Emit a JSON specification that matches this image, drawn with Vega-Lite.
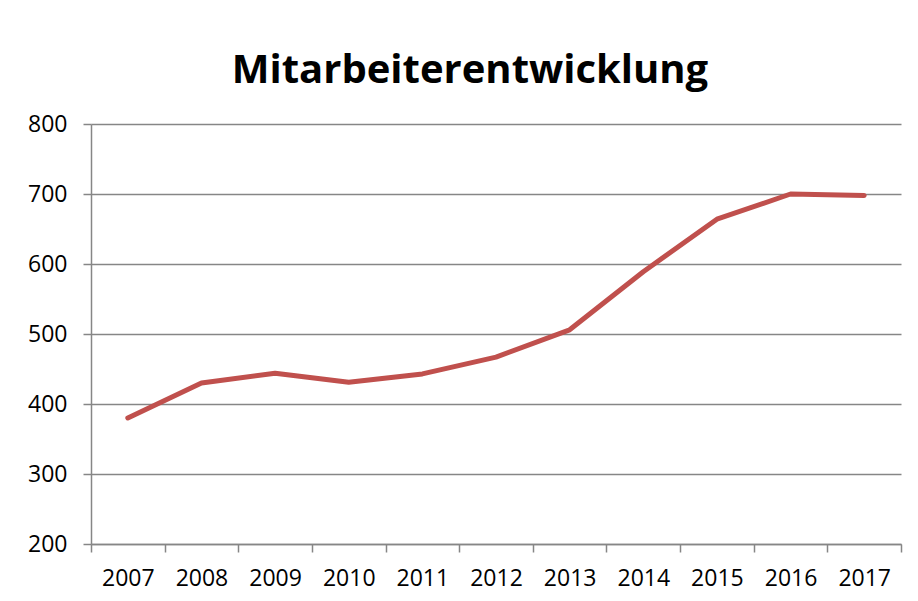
{
  "$schema": "https://vega.github.io/schema/vega-lite/v6.json",
  "width": 810,
  "height": 420,
  "autosize": {"type": "none"},
  "padding": {"left": 91, "top": 124, "right": 17, "bottom": 57},
  "background": "white",
  "title": {
    "text": "Mitarbeiterentwicklung",
    "font": "Open Sans",
    "fontSize": 40,
    "fontWeight": "bold",
    "color": "#000000",
    "anchor": "middle",
    "dx": -26,
    "baseline": "alphabetic",
    "offset": 0,
    "dy": 10
  },
  "config": {
    "view": {"stroke": null},
    "axis": {
      "labelFont": "Open Sans",
      "labelFontSize": 23,
      "labelColor": "#000000",
      "domainColor": "#868686",
      "tickColor": "#868686",
      "gridColor": "#868686",
      "domainWidth": 1.5,
      "tickWidth": 1.5,
      "gridWidth": 1.5,
      "tickSize": 8,
      "title": null
    }
  },
  "data": {
    "values": [
      {"Jahr": "2007", "Mitarbeiter": 380},
      {"Jahr": "2008", "Mitarbeiter": 430},
      {"Jahr": "2009", "Mitarbeiter": 444},
      {"Jahr": "2010", "Mitarbeiter": 431},
      {"Jahr": "2011", "Mitarbeiter": 443},
      {"Jahr": "2012", "Mitarbeiter": 467},
      {"Jahr": "2013", "Mitarbeiter": 506},
      {"Jahr": "2014", "Mitarbeiter": 589},
      {"Jahr": "2015", "Mitarbeiter": 664},
      {"Jahr": "2016", "Mitarbeiter": 700},
      {"Jahr": "2017", "Mitarbeiter": 698}
    ]
  },
  "mark": {"type": "line", "color": "#C0504D", "strokeWidth": 5, "strokeCap": "round", "strokeJoin": "round"},
  "encoding": {
    "x": {
      "field": "Jahr",
      "type": "ordinal",
      "scale": {"type": "band", "paddingInner": 0, "paddingOuter": 0},
      "axis": {"tickBand": "extent", "labelAngle": 0, "labelPadding": 15, "grid": false}
    },
    "y": {
      "field": "Mitarbeiter",
      "type": "quantitative",
      "scale": {"domain": [200, 800], "nice": false, "zero": false},
      "axis": {"values": [200, 300, 400, 500, 600, 700, 800], "grid": true, "labelPadding": 16}
    }
  }
}
